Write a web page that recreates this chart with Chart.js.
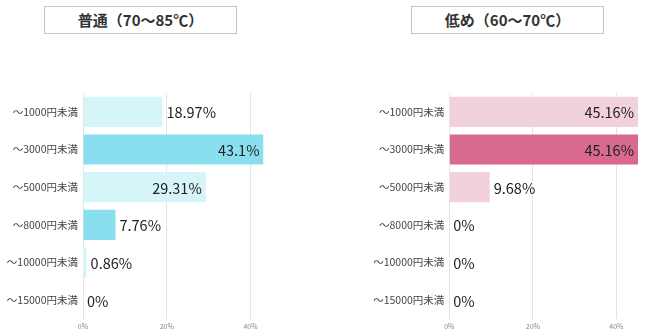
<!DOCTYPE html>
<html>
<head>
<meta charset="utf-8">
<script src="https://cdn.jsdelivr.net/npm/chart.js@4"></script>
<style>
  body { margin: 0; background: #fff; width: 650px; height: 334px; position: relative; overflow: hidden; font-family: "Noto Sans CJK JP", sans-serif; }
  .ttl { position: absolute; top: 6px; width: 191px; height: 26px; border: 1px solid #c4c4c4; text-align: center; line-height: 26px; font-weight: bold; font-size: 15px; color: #333; }
  canvas { position: absolute; top: 80px; }
</style>
</head>
<body>
<div class="ttl" style="left:44px">普通（70～85℃）</div>
<div class="ttl" style="left:411px">低め（60～70℃）</div>
<canvas id="normalChart" width="275" height="254" style="left:0"></canvas>
<canvas id="lowChart" width="320" height="254" style="left:330px"></canvas>
<script>
const categories = ["～1000円未満", "～3000円未満", "～5000円未満", "～8000円未満", "～10000円未満", "～15000円未満"];
const normalValues = [18.97, 43.1, 29.31, 7.76, 0.86, 0];
const lowValues = [45.16, 45.16, 9.68, 0, 0, 0];
const xTicks = [0, 20, 40];
const normalHighlight = [1, 3];
const lowHighlight = [1];

const FONT = '"Noto Sans CJK JP", sans-serif';
const INSIDE_MIN = 25; // labels go inside the bar above this value

const valueLabels = {
  id: "valueLabels",
  afterDatasetsDraw(chart) {
    const ctx = chart.ctx;
    const vals = chart.data.datasets[0].data;
    ctx.save();
    ctx.font = "14.5px " + FONT;
    ctx.fillStyle = "#222";
    ctx.textBaseline = "middle";
    chart.getDatasetMeta(0).data.forEach((bar, i) => {
      const txt = vals[i] + "%";
      if (vals[i] >= INSIDE_MIN) {
        ctx.textAlign = "right";
        ctx.fillText(txt, bar.x - 4, bar.y + 1);
      } else {
        ctx.textAlign = "left";
        ctx.fillText(txt, bar.x + 4, bar.y + 1);
      }
    });
    ctx.restore();
  }
};

function makeChart(id, values, highlight, strong, light, axisWidth, padRight) {
  return new Chart(document.getElementById(id), {
    type: "bar",
    data: {
      labels: categories,
      datasets: [{
        data: values,
        backgroundColor: values.map((v, i) => highlight.includes(i) ? strong : light),
        borderWidth: 0,
        barPercentage: 0.8,
        categoryPercentage: 1
      }]
    },
    options: {
      indexAxis: "y",
      responsive: false,
      animation: false,
      devicePixelRatio: 1,
      layout: { padding: { top: 13, right: padRight, bottom: 0, left: 0 } },
      plugins: { legend: { display: false }, tooltip: { enabled: false } },
      scales: {
        x: {
          min: 0,
          max: Math.max(...values),
          afterBuildTicks: s => { s.ticks = xTicks.map(v => ({ value: v })); },
          afterFit: s => { s.height = 15; },
          ticks: { callback: v => v + "%", font: { size: 7, family: FONT }, color: "#888", padding: 3 },
          grid: { color: "#e4e4e4", drawTicks: false },
          border: { display: false }
        },
        y: {
          afterFit: s => { s.width = axisWidth; },
          ticks: { font: { size: 10.5, family: FONT }, color: "#444", padding: 5 },
          grid: { display: false, drawTicks: false },
          border: { color: "#e4e4e4" }
        }
      }
    },
    plugins: [valueLabels]
  });
}

makeChart("normalChart", normalValues, normalHighlight, "#8adfee", "#d5f5f9", 83, 11.5);
makeChart("lowChart", lowValues, lowHighlight, "#d8698f", "#f1d1dd", 119.3, 12);
</script>
</body>
</html>
